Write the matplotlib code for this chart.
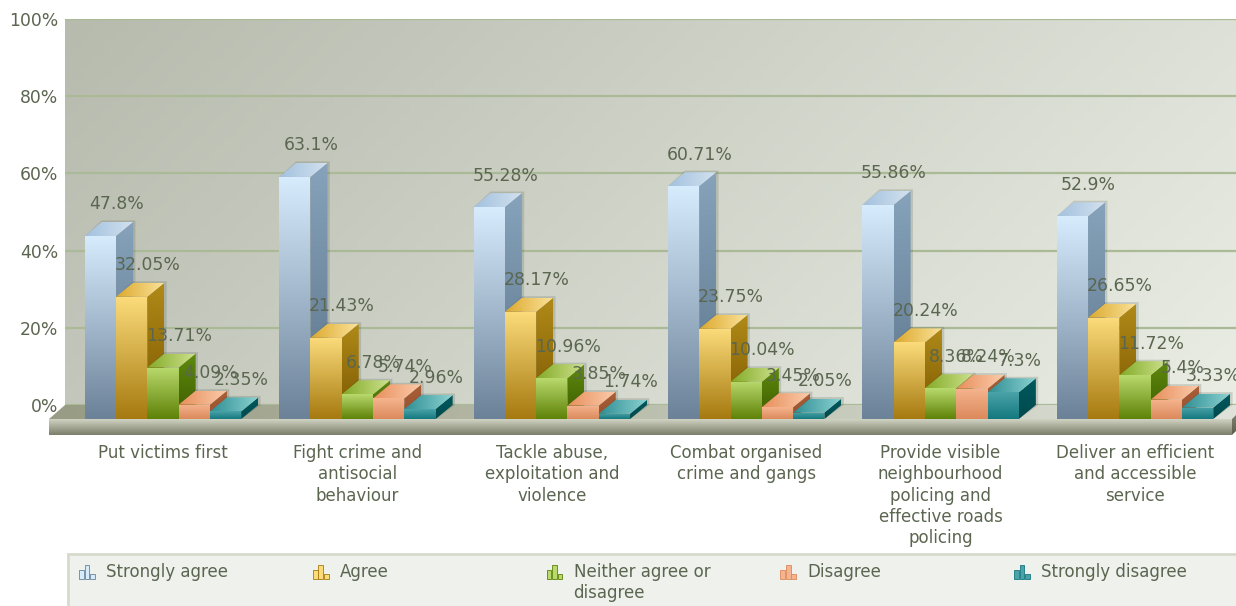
import numpy as np
import matplotlib
matplotlib.use("Agg")
import matplotlib.pyplot as plt
from matplotlib.colors import LinearSegmentedColormap
from matplotlib.patches import Polygon, Rectangle

plt.rcParams['font.family'] = ['DejaVu Sans']

categories = ["Put victims first", "Fight crime and\nantisocial\nbehaviour",
              "Tackle abuse,\nexploitation and\nviolence", "Combat organised\ncrime and gangs",
              "Provide visible\nneighbourhood\npolicing and\neffective roads\npolicing",
              "Deliver an efficient\nand accessible\nservice"]
strongly_agree = [47.8, 63.1, 55.28, 60.71, 55.86, 52.9]
agree = [32.05, 21.43, 28.17, 23.75, 20.24, 26.65]
neither = [13.71, 6.78, 10.96, 10.04, 8.36, 11.72]
disagree = [4.09, 5.74, 3.85, 3.45, 8.24, 5.4]
strongly_disagree = [2.35, 2.96, 1.74, 2.05, 7.3, 3.33]
value_labels = [["47.8%", "32.05%", "13.71%", "4.09%", "2.35%"],
                ["63.1%", "21.43%", "6.78%", "5.74%", "2.96%"],
                ["55.28%", "28.17%", "10.96%", "3.85%", "1.74%"],
                ["60.71%", "23.75%", "10.04%", "3.45%", "2.05%"],
                ["55.86%", "20.24%", "8.36%", "8.24%", "7.3%"],
                ["52.9%", "26.65%", "11.72%", "5.4%", "3.33%"]]
series_names = ["Strongly agree", "Agree", "Neither agree or\ndisagree", "Disagree", "Strongly disagree"]
series = [strongly_agree, agree, neither, disagree, strongly_disagree]

# colours: front top/bottom, side top/bottom, top face left/right
palette = [
    ("#d6ebfc", "#6c8299", "#86a3bb", "#5b7389", "#a3c1de", "#d3e2f0"),
    ("#fbdb7a", "#a67a10", "#b08a18", "#7a5600", "#dca92e", "#fbe39a"),
    ("#b8d96c", "#5f8208", "#5f8a0e", "#3d5c00", "#84ab28", "#cde28e"),
    ("#f5b48e", "#dc8a5c", "#ab5f36", "#965030", "#e8905c", "#fbcbab"),
    ("#4aa3a8", "#14797f", "#00595e", "#004a4e", "#2f8f94", "#8cd2d2"),
]
text_col = "#5b6650"

W, H = 1236, 606
wall_l, wall_r, wall_t, wall_b = 65, 1236, 19, 405
group_px = 194.4
first_centre = 163
bar_w = 31.3 / group_px
dx = 17 / group_px
py = 100 / (wall_b - wall_t)  # percent per pixel
floor_y = -14 * py
drop = 1.5 * py  # bars sit slightly under the gridline scale in the original

fig = plt.figure(figsize=(W / 100, H / 100), dpi=100)
ax = fig.add_axes([wall_l / W, 1 - wall_b / H, (wall_r - wall_l) / W, (wall_b - wall_t) / H])
xlim = ((wall_l - first_centre) / group_px, (wall_r - first_centre) / group_px)
ylim = (0, 100)


def grad(ax, verts, c1, c2, horizontal=False, zorder=3):
    # gradient image clipped to a polygon
    verts = np.array(verts)
    cmap = LinearSegmentedColormap.from_list("g", [c1, c2])
    g = np.linspace(0, 1, 64)
    g = g.reshape(1, -1) if horizontal else g.reshape(-1, 1)
    ext = (verts[:, 0].min(), verts[:, 0].max(), verts[:, 1].min(), verts[:, 1].max())
    im = ax.imshow(g, extent=ext, origin='upper', aspect='auto', cmap=cmap, vmin=0, vmax=1,
                   zorder=zorder, interpolation='bilinear')
    clip = Polygon(verts, transform=ax.transData)
    im.set_clip_box(fig.bbox)
    im.set_clip_path(clip)


# wall with a diagonal gradient
wall = np.add.outer(np.linspace(0.0, 0.25, 100), np.linspace(0, 0.75, 200))
wall_cmap = LinearSegmentedColormap.from_list("wall", ["#b7bbae", "#e9ede4"])
ax.imshow(wall, extent=(*xlim, *ylim), origin='upper', aspect='auto', cmap=wall_cmap,
          vmin=0, vmax=1, zorder=0)

# floor and front slab
slab_l = xlim[0] - 16 / group_px
slab_r = xlim[1] - 4 / group_px
slab_b = floor_y - 16 * py
grad(ax, [(xlim[0], 0), (xlim[1] + 12 / group_px, 0), (slab_r, floor_y), (slab_l, floor_y)],
     "#989c84", "#dfe3d9", horizontal=True, zorder=1)
grad(ax, [(slab_l, floor_y), (slab_r, floor_y), (slab_r, slab_b), (slab_l, slab_b)],
     "#d0d3c2", "#7a7e6a", zorder=1)
grad(ax, [(slab_r, floor_y), (xlim[1], floor_y + 4 * py), (xlim[1], slab_b + 4 * py), (slab_r, slab_b)],
     "#7c806c", "#5a5e4c", zorder=1)

for s, (values, cols) in enumerate(zip(series, palette)):
    for i, v in enumerate(values):
        x0 = i + (s - 2.5) * bar_w
        x1 = x0 + bar_w
        z = 3 + s * 0.1
        back = v - drop
        top = back + floor_y
        # soft shadow behind the bar
        ax.add_patch(Polygon([(x1, floor_y), (x1 + dx + 0.012, 0), (x1 + dx + 0.012, back + 0.4), (x0 + dx, back + 0.4), (x0, top)],
                             fc="#404838", alpha=0.18, ec="none", zorder=z - 0.05, clip_on=False))
        grad(ax, [(x1, floor_y), (x1 + dx, 0), (x1 + dx, back), (x1, top)], cols[2], cols[3], zorder=z)
        grad(ax, [(x0, top), (x1, top), (x1 + dx, back), (x0 + dx, back)], cols[4], cols[5], horizontal=True, zorder=z)
        grad(ax, [(x0, floor_y), (x1, floor_y), (x1, top), (x0, top)], cols[0], cols[1], zorder=z + 0.01)
        ax.text(x0 + bar_w / 2 + dx - 1 / group_px, v + 16 * py, value_labels[i][s], ha='center', va='center',
                fontsize=12.4, color=text_col, zorder=10, clip_on=False)

ax.set_xlim(*xlim)
ax.set_ylim(*ylim)
ax.set_yticks([0, 20, 40, 60, 80, 100])
ax.set_yticklabels(["0%", "20%", "40%", "60%", "80%", "100%"], fontsize=12.4, color=text_col)
ax.set_xticks(range(len(categories)))
ax.set_xticklabels(categories, fontsize=12, color=text_col, linespacing=1.24)
ax.tick_params(axis='y', length=0, pad=5)
ax.tick_params(axis='x', length=0, pad=28)
ax.grid(axis='y', color="#aab996", lw=1.6, zorder=0.5)
ax.set_axisbelow(False)
for line in ax.get_ygridlines():
    line.set_zorder(0.5)
for spine in ax.spines.values():
    spine.set_visible(False)

# legend panel, in pixels
leg = fig.add_axes([0, 0, 1, 1], zorder=5)
leg.set_xlim(0, W)
leg.set_ylim(H, 0)
leg.axis('off')
leg.add_patch(Rectangle((68, 554), W - 68 + 5, 60, fc="#eef1ec", ec="#d5dbcc", lw=2))
icon_x = np.linspace(79, 1014, 5)
for x, name, cols in zip(icon_x, series_names, palette):
    for off, h in zip((0, 5.5, 11), (9, 14, 5)):
        leg.add_patch(Rectangle((x + off, 579 - h), 4.8, h, fc=cols[0], ec=cols[1], lw=0.6))
    leg.text(x + 27, 563, name, fontsize=12, color=text_col, va='top', ha='left', linespacing=1.24)

fig.savefig("out.png", dpi=100, facecolor="white")
